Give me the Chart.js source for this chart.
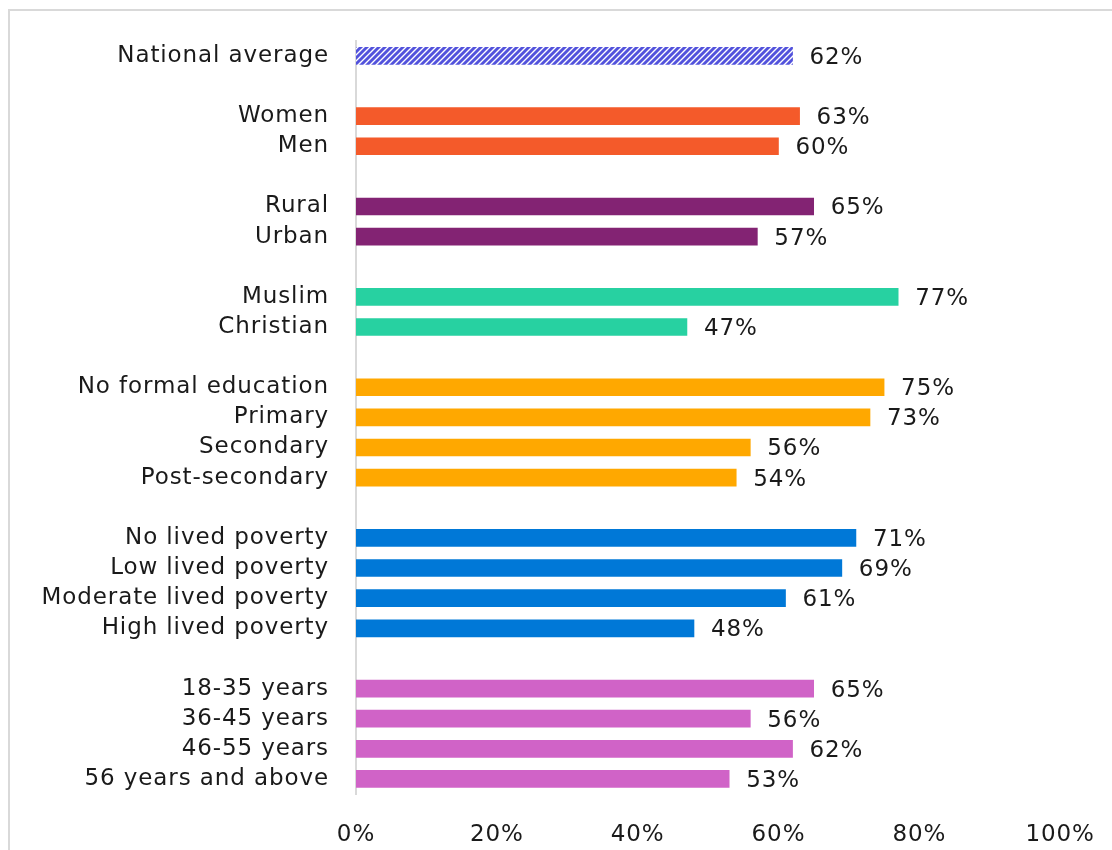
<!DOCTYPE html>
<html>
<head>
<meta charset="utf-8">
<script src="https://cdn.jsdelivr.net/npm/chart.js@4/dist/chart.umd.min.js"></script>
<style>
    body { margin: 0; background: #fff; overflow: hidden; }
    #frame {
        position: absolute; left: 8px; top: 9px;
        width: 1200px; height: 1000px;
        border: 2px solid #d9d9d9;
    }
    #bar-chart { position: absolute; left: 0; top: 0; }
</style>
</head>
<body>
<div id="frame"></div>
<canvas id="bar-chart" width="1112" height="850"></canvas>
<script>
//#region Datos
var nationalLabels = ['National average'];
var nationalValues = [62];

var genderLabels = ['Women', 'Men'];
var genderValues = [63, 60];

var locationLabels = ['Rural', 'Urban'];
var locationValues = [65, 57];

var religionLabels = ['Muslim', 'Christian'];
var religionValues = [77, 47];

var educationLabels = ['No formal education', 'Primary', 'Secondary', 'Post-secondary'];
var educationValues = [75, 73, 56, 54];

var povertyLabels = ['No lived poverty', 'Low lived poverty', 'Moderate lived poverty', 'High lived poverty'];
var povertyValues = [71, 69, 61, 48];

var ageLabels = ['18-35 years', '36-45 years', '46-55 years', '56 years and above'];
var ageValues = [65, 56, 62, 53];

var xTicks = [0, 20, 40, 60, 80, 100];
//#endregion

// rayado para el promedio nacional
function hatchPattern() {
    var tile = document.createElement('canvas');
    tile.width = 6;
    tile.height = 6;
    var c = tile.getContext('2d');
    c.fillStyle = '#ffffff';
    c.fillRect(0, 0, 6, 6);
    c.strokeStyle = '#5252dc';
    c.lineWidth = 2.9;
    c.beginPath();
    c.moveTo(-1, 7); c.lineTo(7, -1);
    c.moveTo(-4, 4); c.lineTo(4, -4);
    c.moveTo(2, 10); c.lineTo(10, 2);
    c.stroke();
    return document.createElement('canvas').getContext('2d').createPattern(tile, 'repeat');
}

var groups = [
    { labels: nationalLabels, values: nationalValues, color: hatchPattern() },
    { labels: genderLabels, values: genderValues, color: '#f45a2a' },
    { labels: locationLabels, values: locationValues, color: '#832373' },
    { labels: religionLabels, values: religionValues, color: '#27d1a1' },
    { labels: educationLabels, values: educationValues, color: '#ffa800' },
    { labels: povertyLabels, values: povertyValues, color: '#0078d7' },
    { labels: ageLabels, values: ageValues, color: '#d063c7' }
];

// filas vacias entre grupos
var labels = [];
var values = [];
var colors = [];
groups.forEach((g, i) => {
    if (i > 0) {
        labels.push('');
        values.push(null);
        colors.push('#ffffff');
    }
    g.labels.forEach((l, j) => {
        labels.push(l);
        values.push(g.values[j]);
        colors.push(g.color);
    });
});

var FONT = "'DejaVu Sans', sans-serif";
var SIZE = 23;
var SPACING = '0.9px';

// letra un poco mas ancha
var wideText = {
    id: 'wideText',
    beforeDraw(chart) { chart.ctx.letterSpacing = SPACING; }
};

var valueLabels = {
    id: 'valueLabels',
    afterDatasetsDraw(chart) {
        var ctx = chart.ctx;
        ctx.save();
        ctx.letterSpacing = SPACING;
        ctx.font = SIZE + 'px ' + FONT;
        ctx.fillStyle = '#1a1a1a';
        ctx.textAlign = 'left';
        ctx.textBaseline = 'middle';
        chart.getDatasetMeta(0).data.forEach((bar, i) => {
            if (values[i] == null) return;
            ctx.fillText(values[i] + '%', bar.x + 17, bar.y + 2);
        });
        ctx.restore();
    }
};

var barCtx = document.querySelector('#bar-chart').getContext('2d');
var barChart = new Chart(barCtx, {
    type: 'bar',
    data: {
        labels: labels,
        datasets: [{
            data: values,
            backgroundColor: colors,
            barThickness: 17,
            borderWidth: 0
        }]
    },
    options: {
        indexAxis: 'y',
        responsive: false,
        animation: false,
        events: [],
        layout: { padding: { top: 38, right: 47, bottom: 6, left: 0 } },
        plugins: {
            legend: { display: false },
            tooltip: { enabled: false }
        },
        scales: {
            x: {
                min: 0,
                max: 100,
                afterBuildTicks: (axis) => { axis.ticks = xTicks.map(v => ({ value: v })); },
                afterFit: (axis) => { axis.height = 50; },
                grid: { display: false },
                border: { display: false },
                ticks: {
                    padding: 19,
                    color: '#1a1a1a',
                    font: { family: FONT, size: SIZE },
                    callback: (v) => v + '%'
                }
            },
            y: {
                afterFit: (axis) => { axis.width = 356; },
                grid: { display: false, drawTicks: false },
                border: { display: true, color: '#d9d9d9', width: 2 },
                ticks: {
                    padding: 27,
                    autoSkip: false,
                    color: '#1a1a1a',
                    font: { family: FONT, size: SIZE }
                }
            }
        }
    },
    plugins: [wideText, valueLabels]
});
</script>
</body>
</html>
